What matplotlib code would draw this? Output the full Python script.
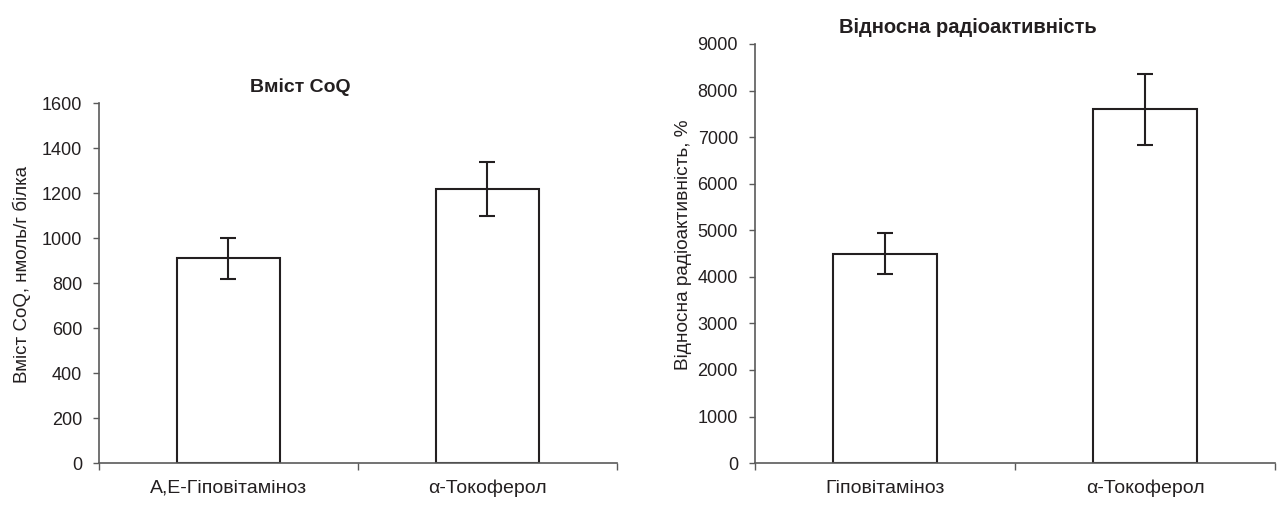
import matplotlib.pyplot as plt

plt.rcParams['font.family'] = ['Liberation Sans', 'DejaVu Sans']

# left chart: CoQ content
coq_labels = ['А,Е-Гіповітаміноз', 'α-Токоферол']
coq_values = [910, 1220]
coq_err = [90, 120]

# right chart: relative radioactivity
rad_labels = ['Гіповітаміноз', 'α-Токоферол']
rad_values = [4500, 7600]
rad_err = [450, 760]

txt = '#231f20'
axis_col = '#5a5a5a'


def draw(ax, labels, values, err, ymax, step, ylabel, ylab_size, ylab_pos):
    x = range(len(values))
    ax.bar(x, values, width=0.4, color='white', edgecolor=txt, linewidth=1.5, zorder=2)
    ax.errorbar(x, values, yerr=err, fmt='none', ecolor=txt, elinewidth=1.5,
                capsize=6, capthick=1.5, zorder=3)
    ax.set_xlim(-0.5, len(values) - 0.5)
    ax.set_ylim(0, ymax)
    ax.set_yticks(range(0, ymax + 1, step))
    # category boundaries get the ticks, labels sit in the middle
    ax.set_xticks([i - 0.5 for i in range(len(values) + 1)])
    ax.set_xticklabels([''] * (len(values) + 1))
    ax.set_xticks(list(x), minor=True)
    ax.set_xticklabels(labels, minor=True)
    ax.tick_params(axis='x', which='minor', length=0, pad=12, labelsize=14, labelcolor=txt)
    ax.tick_params(axis='x', which='major', length=5, width=1, color=axis_col, direction='out')
    ax.tick_params(axis='y', length=4, width=1, color=axis_col, labelsize=13, labelcolor=txt, pad=8)
    for s in ['top', 'right']:
        ax.spines[s].set_visible(False)
    for s in ['left', 'bottom']:
        ax.spines[s].set_color(axis_col)
        ax.spines[s].set_linewidth(1.2)
    ax.set_ylabel(ylabel, fontsize=ylab_size, color=txt)
    ax.yaxis.set_label_coords(*ylab_pos)


fig = plt.figure(figsize=(12.79, 5.05), dpi=100)
ax1 = fig.add_axes([0.0774, 0.083, 0.405, 0.713])
ax2 = fig.add_axes([0.590, 0.083, 0.407, 0.830])

draw(ax1, coq_labels, coq_values, coq_err, 1600, 200, 'Вміст CoQ, нмоль/г білка',
     13.5, (-0.131, 0.525))
draw(ax2, rad_labels, rad_values, rad_err, 9000, 1000, 'Відносна радіоактивність, %',
     13.7, (-0.12, 0.52))

fig.text(0.2346, 0.8277, 'Вміст CoQ', ha='center', va='center',
         fontsize=14, fontweight='bold', color=txt)
fig.text(0.7568, 0.9465, 'Відносна радіоактивність', ha='center', va='center',
         fontsize=14.5, fontweight='bold', color=txt)

fig.savefig('out.png', dpi=100)
